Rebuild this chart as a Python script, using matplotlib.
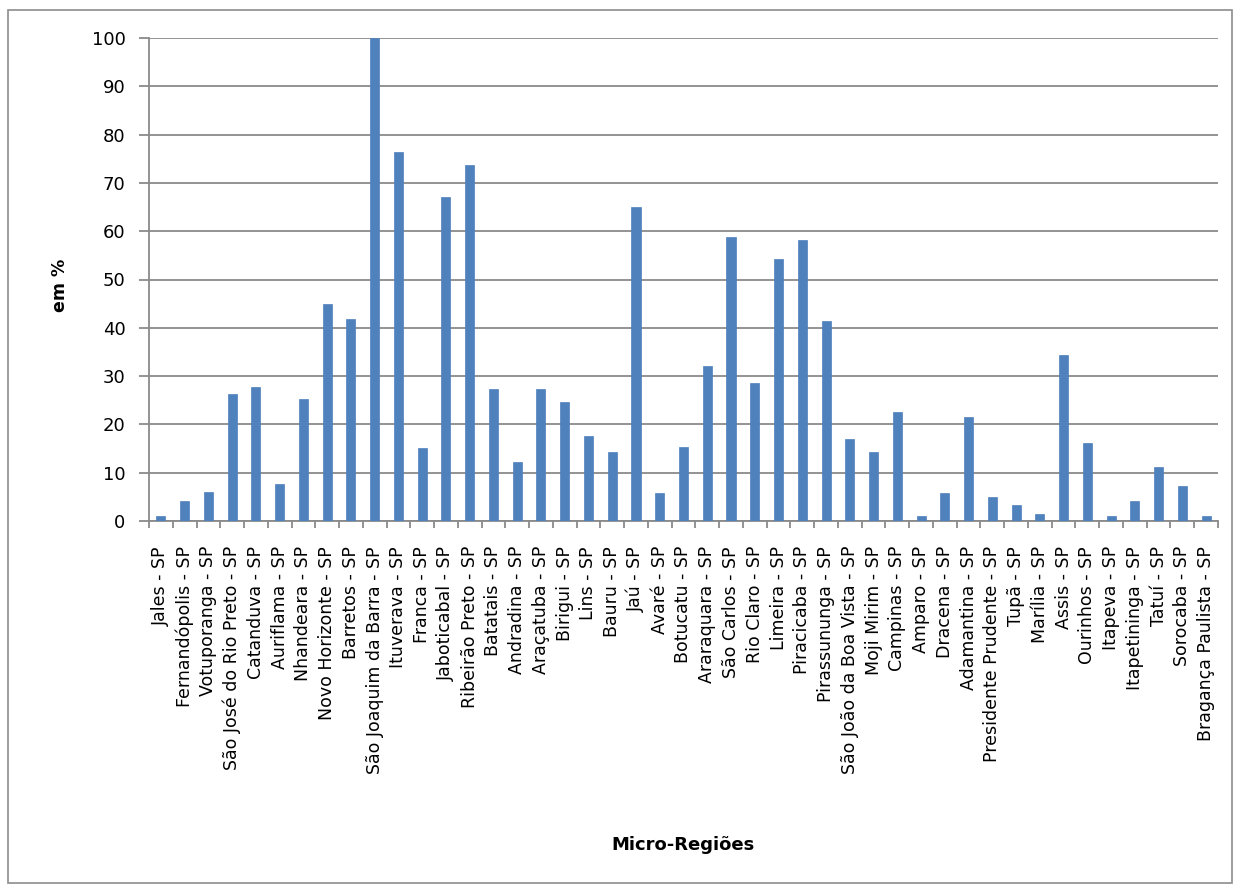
import matplotlib
matplotlib.use("Agg")
import matplotlib.pyplot as plt
import numpy as np
from matplotlib.patches import Rectangle
from matplotlib.ticker import MultipleLocator, FixedLocator

regioes = [
    "Jales", "Fernandópolis", "Votuporanga", "São José do Rio Preto", "Catanduva",
    "Auriflama", "Nhandeara", "Novo Horizonte", "Barretos", "São Joaquim da Barra",
    "Ituverava", "Franca", "Jaboticabal", "Ribeirão Preto", "Batatais",
    "Andradina", "Araçatuba", "Birigui", "Lins", "Bauru",
    "Jaú", "Avaré", "Botucatu", "Araraquara", "São Carlos",
    "Rio Claro", "Limeira", "Piracicaba", "Pirassununga", "São João da Boa Vista",
    "Moji Mirim", "Campinas", "Amparo", "Dracena", "Adamantina",
    "Presidente Prudente", "Tupã", "Marília", "Assis", "Ourinhos",
    "Itapeva", "Itapetininga", "Tatuí", "Sorocaba", "Bragança Paulista",
]
rotulos = [f"{r} - SP" for r in regioes]

percentual = [
    1.0, 4.1, 6.1, 26.3, 27.8,
    7.6, 25.2, 44.9, 41.8, 100.0,
    76.4, 15.1, 67.1, 73.7, 27.4,
    12.3, 27.4, 24.7, 17.7, 14.2,
    65.0, 5.7, 15.4, 32.1, 58.8,
    28.6, 54.2, 58.2, 41.4, 17.0,
    14.2, 22.5, 1.0, 5.7, 21.6,
    4.9, 3.4, 1.4, 34.4, 16.2,
    1.0, 4.1, 11.1, 7.3, 1.0,
]

plt.rcParams["font.family"] = ["DejaVu Sans"]

W, H = 1234, 885
fig = plt.figure(figsize=(W / 100, H / 100), dpi=100)
ax = fig.add_axes([149 / W, 1 - 521 / H, (1218 - 149) / W, (521 - 38) / H])

# outer chart frame
fig.patches.append(Rectangle((8 / W, 2 / H), 1224 / W, 873 / H,
                             transform=fig.transFigure, fill=False,
                             edgecolor="#8c8c8c", linewidth=1.2))

x = np.arange(len(percentual))
ax.bar(x, percentual, width=0.38, color="#4F81BD", edgecolor="#4F81BD",
       linewidth=0.5, zorder=3)

ax.set_xlim(-0.5, len(percentual) - 0.5)
ax.set_ylim(0, 100)
ax.yaxis.set_major_locator(MultipleLocator(10))
ax.grid(axis="y", color="#8a8a8a", linewidth=1.3, zorder=0)
ax.set_axisbelow(True)

for s in ["top", "right"]:
    ax.spines[s].set_visible(False)
for s in ["left", "bottom"]:
    ax.spines[s].set_color("#8a8a8a")
    ax.spines[s].set_linewidth(1.3)

ax.set_xticks(x)
ax.set_xticklabels(rotulos, rotation=90, fontsize=12.5, va="top", ha="center")
ax.tick_params(axis="x", length=0, pad=18)
ax.xaxis.set_minor_locator(FixedLocator(np.arange(-0.5, len(percentual), 1.0)))
ax.tick_params(axis="x", which="minor", length=5, color="#8a8a8a", width=1.3)
ax.tick_params(axis="y", length=7, color="#8a8a8a", width=1.3, labelsize=13, pad=10)

fig.text(60 / W, 1 - 285 / H, "em %", rotation=90, fontsize=12.5,
         fontweight="bold", ha="center", va="center")
fig.text(683 / W, 1 - 845 / H, "Micro-Regiões", fontsize=13,
         fontweight="bold", ha="center", va="center")

fig.savefig("out.png", dpi=100)
